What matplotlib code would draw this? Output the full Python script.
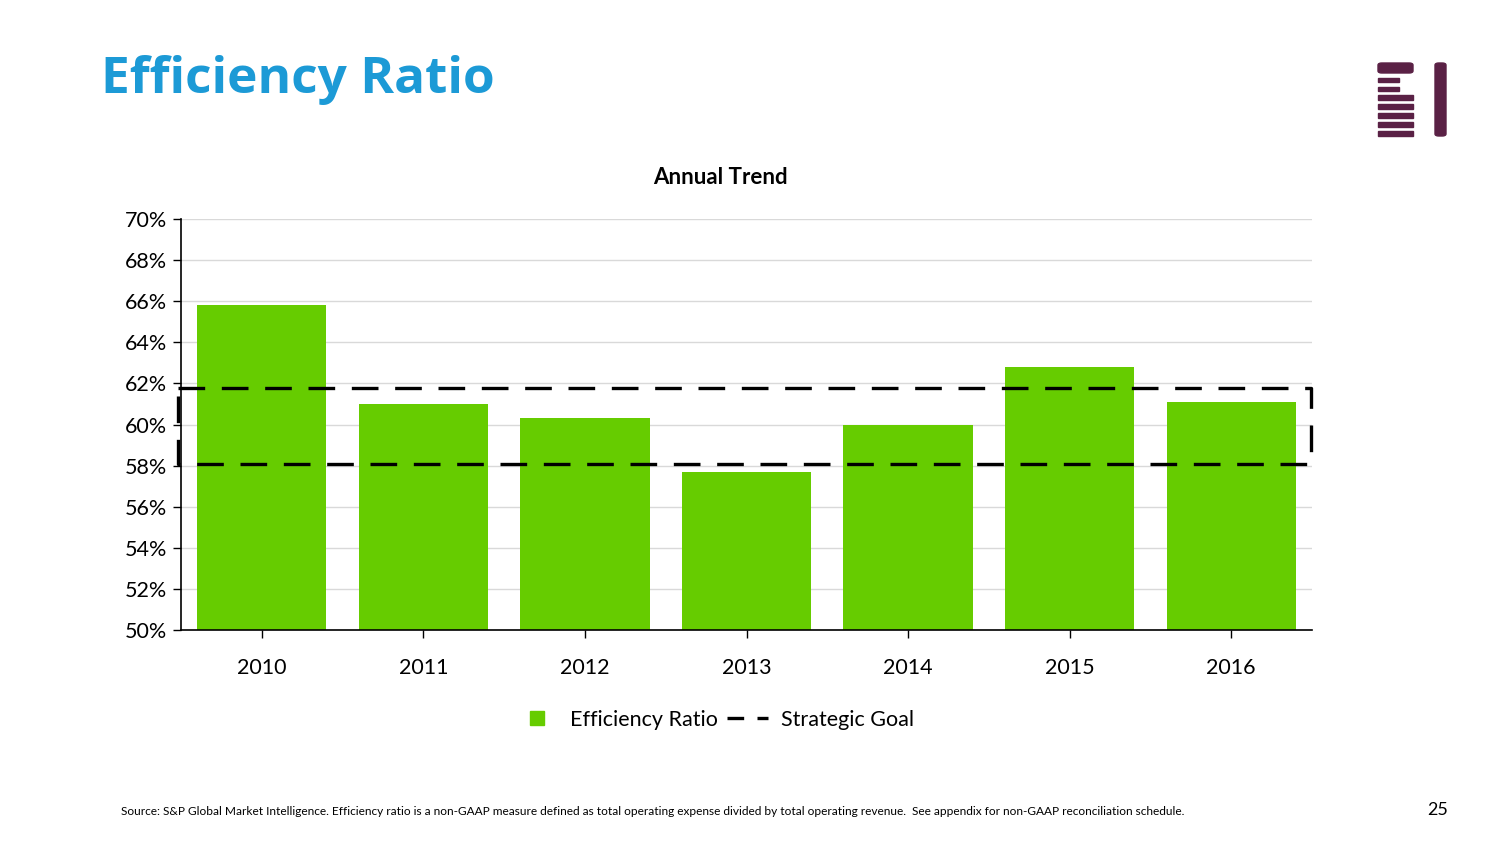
import matplotlib
matplotlib.use("Agg")
import matplotlib.pyplot as plt
from matplotlib.patches import Rectangle, FancyBboxPatch
from matplotlib.lines import Line2D
from matplotlib.ticker import FuncFormatter

plt.rcParams["font.family"] = ["Lato", "DejaVu Sans"]

years = ["2010", "2011", "2012", "2013", "2014", "2015", "2016"]
efficiency = [65.8, 61.0, 60.3, 57.7, 60.0, 62.8, 61.1]
goal_low = 58.1
goal_high = 61.8

GREEN = "#66CC00"
BLUE = "#1C9AD6"
PURPLE = "#5A2145"

W, H = 1504, 846
fig = plt.figure(figsize=(W / 100, H / 100), dpi=100)

def fx(px):
    return px / W

def fy(py):
    return 1 - py / H

ax = fig.add_axes([fx(181), fy(630), fx(1312) - fx(181), fy(219) - fy(630)])
x = list(range(len(years)))
ax.bar(x, efficiency, width=0.8, color=GREEN, zorder=2)
ax.set_xlim(-0.5, len(years) - 0.5)
ax.set_ylim(50, 70)
ax.set_yticks(range(50, 71, 2))
ax.yaxis.set_major_formatter(FuncFormatter(lambda v, p: f"{v:.0f}%"))
ax.set_xticks(x)
ax.set_xticklabels(years)
ax.grid(axis="y", color="#D9D9D9", linewidth=1, zorder=0)
for s in ["top", "right"]:
    ax.spines[s].set_visible(False)
ax.spines["left"].set_linewidth(1.2)
ax.spines["bottom"].set_linewidth(1.2)
ax.tick_params(axis="y", labelsize=15.5, length=6, width=1, pad=4)
ax.tick_params(axis="x", labelsize=15.5, length=6, width=1, pad=14)

# strategic goal band drawn as dashed box
gx0, gx1 = -0.52, len(years) - 0.505
dash = dict(color="black", linewidth=2.4, dashes=(8, 5), zorder=3, clip_on=False)
ax.plot([gx0, gx1, gx1, gx0, gx0], [goal_high, goal_high, goal_low, goal_low, goal_high], **dash)

fig.text(fx(720), fy(178), "Annual Trend", fontsize=16, fontweight="bold",
         ha="center", va="center")

handles = [
    Line2D([0], [0], marker="s", linestyle="none", markersize=10, color=GREEN),
    Line2D([0], [0], color="black", linewidth=2.4, dashes=(5, 4)),
]
fig.legend(handles, ["Efficiency Ratio", "Strategic Goal"], loc="center",
           bbox_to_anchor=(fx(715), fy(720)), ncol=2, frameon=False,
           fontsize=15.5, handlelength=1.9, columnspacing=0.4,
           handletextpad=0.6)

fig.text(fx(101), fy(80), "Efficiency Ratio", fontsize=37, fontweight="bold",
         color=BLUE, va="center", ha="left", family=["Open Sans", "DejaVu Sans"])

fig.text(fx(121), fy(811),
         "Source: S&P Global Market Intelligence. Efficiency ratio is a non-GAAP measure defined as total operating expense "
         "divided by total operating revenue.  See appendix for non-GAAP reconciliation schedule.",
         fontsize=8.6, va="center", ha="left")
fig.text(fx(1448), fy(810), "25", fontsize=13, va="center", ha="right")

# logo
def rect(x0, y0, x1, y1, rounded=False):
    if rounded:
        p = FancyBboxPatch((fx(x0), fy(y1)), fx(x1) - fx(x0), fy(y0) - fy(y1),
                           boxstyle="round,pad=0,rounding_size=0.0025",
                           transform=fig.transFigure, color=PURPLE)
    else:
        p = Rectangle((fx(x0), fy(y1)), fx(x1) - fx(x0), fy(y0) - fy(y1),
                      transform=fig.transFigure, color=PURPLE)
    fig.patches.append(p)

rect(1378, 63, 1413, 73, rounded=True)
rect(1378, 78, 1399, 82)
rect(1378, 87, 1399, 91)
for yy in [95, 104, 113, 122, 131]:
    rect(1378, yy, 1413, yy + 5)
rect(1435, 63, 1446, 136, rounded=True)

fig.savefig("out.png", dpi=100)
